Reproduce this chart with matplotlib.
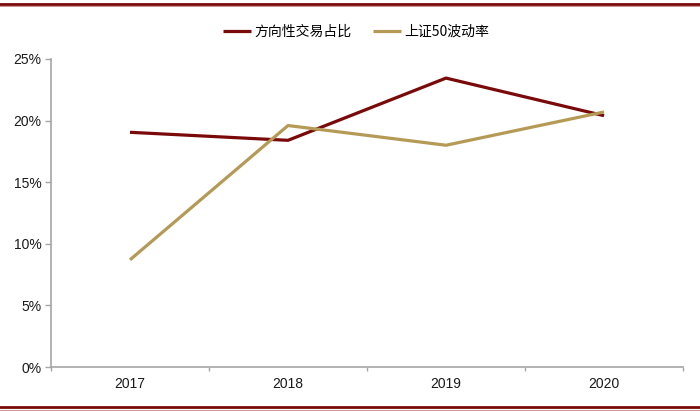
import matplotlib
matplotlib.use("Agg")
import matplotlib.pyplot as plt
from matplotlib.lines import Line2D
from matplotlib.ticker import FixedLocator, PercentFormatter

years = ["2017", "2018", "2019", "2020"]
directional_share = [19.05, 18.4, 23.45, 20.4]
sse50_vol = [8.7, 19.6, 18.0, 20.7]
series_names = ["方向性交易占比", "上证50波动率"]
y_ticks = [0, 5, 10, 15, 20, 25]

red = "#7A0A0A"
gold = "#B59A55"
grey = "#A6A6A6"

plt.rcParams['font.family'] = ['Liberation Sans', 'Noto Sans CJK SC', 'DejaVu Sans']

fig = plt.figure(figsize=(7.0, 4.11), dpi=100)
ax = fig.add_axes([51/700, 1-367/411, (683-51)/700, (367-59)/411])

x = list(range(len(years)))
ax.plot(x, directional_share, color=red, lw=2.3, label=series_names[0], solid_capstyle='butt')
ax.plot(x, sse50_vol, color=gold, lw=2.3, label=series_names[1], solid_capstyle='butt')

ax.set_xlim(-0.5, len(years) - 0.5)
ax.set_ylim(0, 25)
ax.yaxis.set_major_locator(FixedLocator(y_ticks))
ax.yaxis.set_major_formatter(PercentFormatter(decimals=0))
ax.set_xticks(x)
ax.set_xticklabels(years)
ax.set_xticks([i - 0.5 for i in range(len(years) + 1)], minor=True)
ax.tick_params(axis='x', which='major', length=0, pad=7, labelsize=10)
ax.tick_params(axis='x', which='minor', length=3, color=grey, width=1)
ax.tick_params(axis='y', which='major', length=4, color=grey, width=1, labelsize=10, pad=3)
for lbl in ax.get_yticklabels() + ax.get_xticklabels():
    lbl.set_color('#1a1a1a')
for s in ['top', 'right']:
    ax.spines[s].set_visible(False)
for s in ['left', 'bottom']:
    ax.spines[s].set_color(grey)
    ax.spines[s].set_linewidth(1.2)

leg = fig.legend(loc='center', bbox_to_anchor=(356/700, 1-32/411), ncol=2, frameon=False,
                 prop={'family': ['Noto Sans CJK SC', 'DejaVu Sans'], 'size': 10},
                 handlelength=2.0, handletextpad=0.2, columnspacing=1.6)

# decorative border lines top and bottom
for yy in [4, 407]:
    fig.add_artist(Line2D([0, 1], [1-yy/411, 1-yy/411], color=red, lw=2.0, transform=fig.transFigure))
    fig.add_artist(Line2D([0, 1], [1-(yy+2.5)/411, 1-(yy+2.5)/411], color='#C08080', lw=0.6, transform=fig.transFigure))

fig.savefig("out.png", dpi=100)
